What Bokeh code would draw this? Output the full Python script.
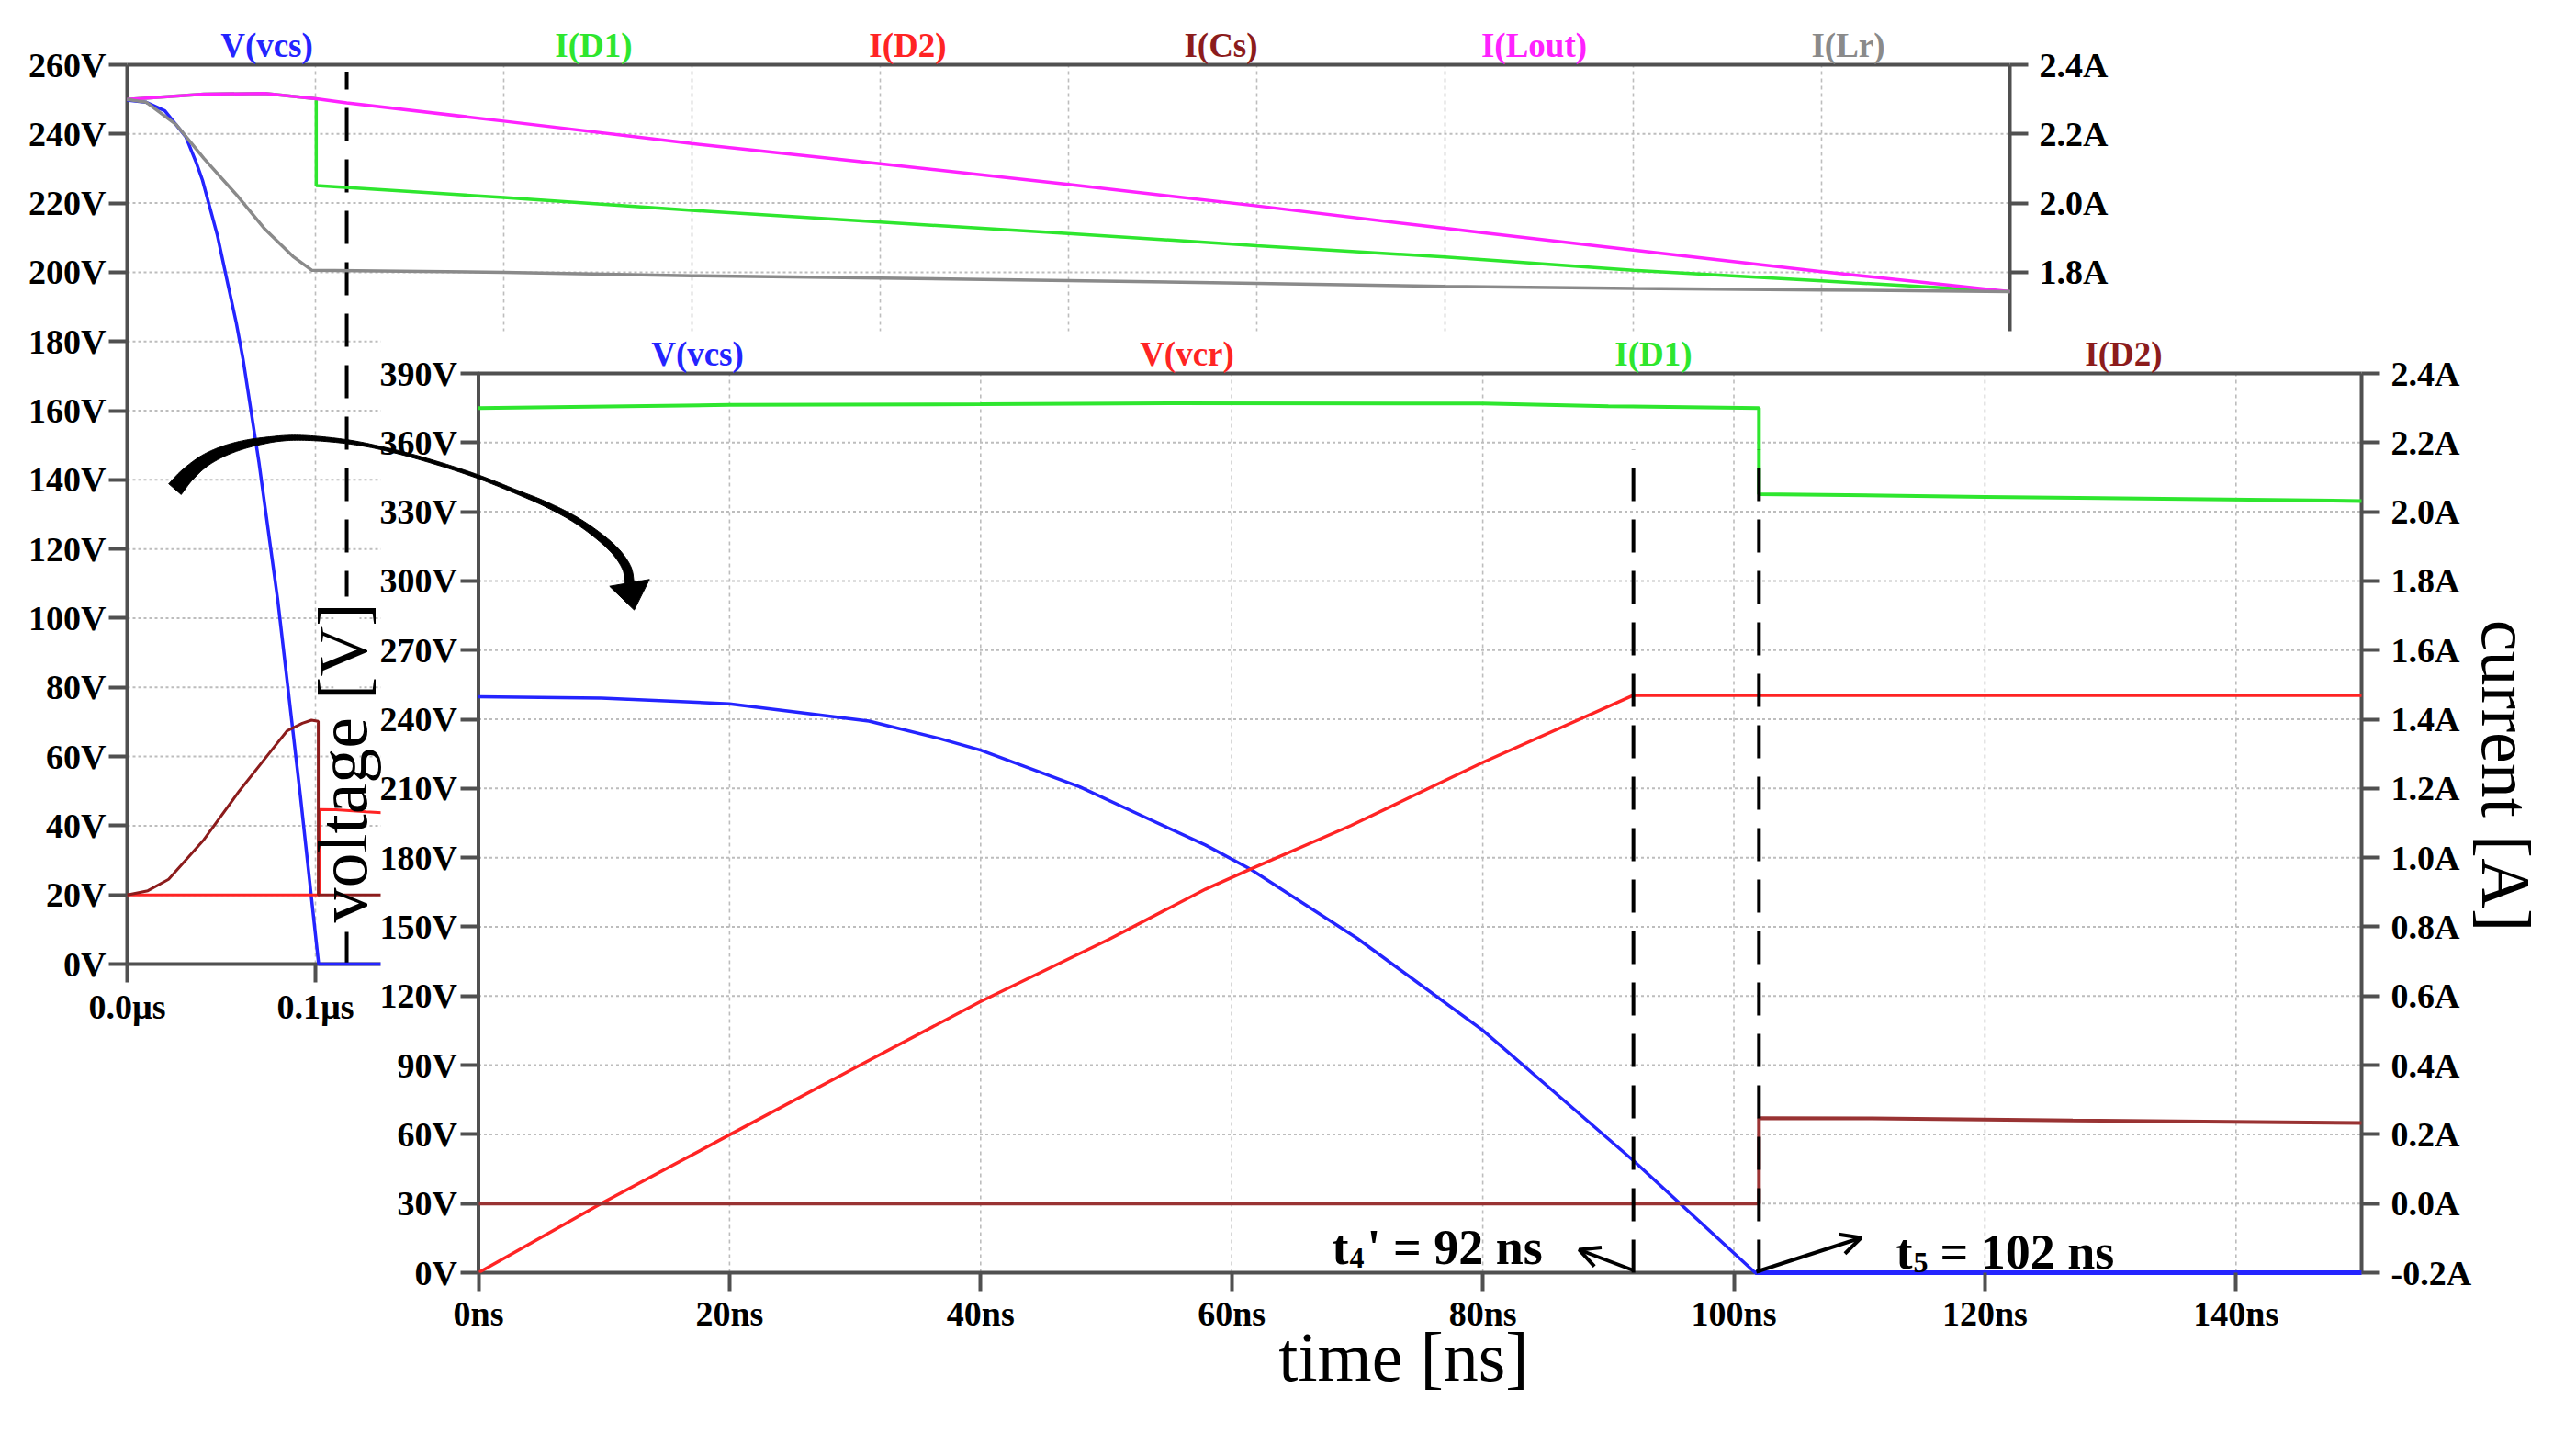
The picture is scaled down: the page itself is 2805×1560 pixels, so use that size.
import numpy as np
from bokeh.plotting import figure
from bokeh.models import Range1d, LinearAxis, FixedTicker, Label, Arrow, OpenHead, AllLabels
from bokeh.core.properties import value
from bokeh.embed import file_html
from bokeh.resources import INLINE

# ---------------- inset (zoomed) plot data, time in ns ----------------
in_t_vcs = [0, 9.8, 20, 31.1, 36.7, 40, 47.9, 53.5, 57.9, 61.5, 70, 80, 85.9, 92, 101.7, 150]
in_v_vcs = [249.8, 249.2, 246.7, 239.2, 231.7, 226.6, 210.7, 196.5, 185.5, 175.0, 145.0, 105.1, 77.4, 48.6, 0.0, 0.0]
in_t_vcr = [0, 9.8, 20, 30.4, 40, 50.2, 57.9, 61.5, 69.5, 80, 92, 150]
in_v_vcr = [0.0, 30.1, 59.8, 90.0, 117.6, 144.5, 166.3, 175.0, 193.9, 221.3, 250.4, 250.4]
in_t_d1 = [0, 20, 40, 55, 80, 90, 102, 102, 120, 150]
in_i_d1 = [2.300, 2.309, 2.311, 2.314, 2.313, 2.305, 2.300, 2.051, 2.043, 2.031]
in_t_d2 = [0, 102, 102, 111, 127, 150]
in_i_d2 = [0.0, 0.0, 0.247, 0.246, 0.240, 0.233]
in_markers_t = [92, 102]
in_marker_top_v = 357

# ---------------- background plot data, time in us ----------------
bg_t_d1 = [0.0, 0.0408, 0.0731, 0.1004, 0.1004, 0.2, 0.3, 0.4, 0.5, 0.6, 0.7, 0.8, 0.9, 1.0]
bg_i_d1 = [2.300, 2.315, 2.317, 2.302, 2.051, 2.016, 1.979, 1.945, 1.912, 1.877, 1.844, 1.806, 1.775, 1.744]
bg_t_cs = [0.0, 0.011, 0.022, 0.0408, 0.0595, 0.078, 0.0849, 0.093, 0.0979, 0.1015, 0.1015, 0.2]
bg_i_cs = [0.0, 0.012, 0.045, 0.160, 0.300, 0.427, 0.474, 0.496, 0.505, 0.502, 0.0, 0.0]
bg_t_lout = [0.0, 0.0408, 0.0731, 0.1004, 0.1166, 0.2, 0.3, 0.4, 0.5, 0.6, 0.7, 0.8, 0.9, 1.0]
bg_i_lout = [2.300, 2.315, 2.317, 2.302, 2.290, 2.237, 2.172, 2.114, 2.054, 1.992, 1.927, 1.864, 1.802, 1.744]
bg_t_lr = [0.0, 0.01, 0.026, 0.0408, 0.0582, 0.0731, 0.088, 0.098, 0.2, 0.3, 0.4, 0.5, 0.6, 0.7, 0.8, 0.9, 1.0]
bg_i_lr = [2.300, 2.292, 2.227, 2.129, 2.023, 1.925, 1.846, 1.806, 1.800, 1.790, 1.783, 1.776, 1.768, 1.759, 1.753, 1.749, 1.744]
bg_marker_t = 0.1166

# ---------------- ticks / labels ----------------
bg_v_ticks = [0, 20, 40, 60, 80, 100, 120, 140, 160, 180, 200, 220, 240, 260]
bg_v_labels = ["0V", "20V", "40V", "60V", "80V", "100V", "120V", "140V", "160V", "180V", "200V", "220V", "240V", "260V"]
bg_a_ticks = [1.8, 2.0, 2.2, 2.4]
bg_a_labels = ["1.8A", "2.0A", "2.2A", "2.4A"]
bg_t_ticks = [0.0, 0.1]
bg_t_labels = ["0.0\u00b5s", "0.1\u00b5s"]
bg_t_range = [0.0, 1.0]
bg_t_grid = [0.1, 0.2, 0.3, 0.4, 0.5, 0.6, 0.7, 0.8, 0.9]

in_v_ticks = [0, 30, 60, 90, 120, 150, 180, 210, 240, 270, 300, 330, 360, 390]
in_v_labels = ["0V", "30V", "60V", "90V", "120V", "150V", "180V", "210V", "240V", "270V", "300V", "330V", "360V", "390V"]
in_a_ticks = [-0.2, 0.0, 0.2, 0.4, 0.6, 0.8, 1.0, 1.2, 1.4, 1.6, 1.8, 2.0, 2.2, 2.4]
in_a_labels = ["-0.2A", "0.0A", "0.2A", "0.4A", "0.6A", "0.8A", "1.0A", "1.2A", "1.4A", "1.6A", "1.8A", "2.0A", "2.2A", "2.4A"]
in_t_ticks = [0, 20, 40, 60, 80, 100, 120, 140]
in_t_labels = ["0ns", "20ns", "40ns", "60ns", "80ns", "100ns", "120ns", "140ns"]
in_t_range = [0, 150]

BLUE, GREEN, RED, DRED, MAG, GRAY = "#2424ff", "#2ee62e", "#ff2424", "#8c1c1c", "#ff22ff", "#8a8a8a"
bg_names = ["V(vcs)", "I(D1)", "I(D2)", "I(Cs)", "I(Lout)", "I(Lr)"]
bg_name_colors = [BLUE, GREEN, RED, DRED, MAG, GRAY]
in_names = ["V(vcs)", "V(vcr)", "I(D1)", "I(D2)"]
in_name_colors = [BLUE, RED, GREEN, DRED]

AXC = "#505050"
GRIDC = "#bdbdbd"
FONT = "Liberation Serif"

# ---------------- layout helpers (pixel anchors of the reference) ----------------
W, H = 2789, 1544
X0, X1 = 8, 8 + W          # reference-pixel span of the canvas
Y0, Y1 = 8 + H, 8          # bottom, top (y grows downward in reference pixels)


def lin_range(v0, p0, v1, p1, q0, q1):
    k = (v1 - v0) / (p1 - p0)
    return Range1d(start=v0 + (q0 - p0) * k, end=v0 + (q1 - p0) * k)


p = figure(width=W, height=H, x_range=Range1d(X0, X1), y_range=Range1d(Y0, Y1),
           x_axis_location=None, y_axis_location=None, toolbar_location=None,
           output_backend="svg", min_border=0)
p.outline_line_color = None
p.grid.visible = False
p.background_fill_color = "white"
p.border_fill_color = "white"

p.extra_x_ranges = {
    "bx": lin_range(0.0, 146, 1.0, 2196, X0, X1),
    "ix": lin_range(0.0, 528.5, 150.0, 2579, X0, X1),
}
p.extra_y_ranges = {
    "bv": lin_range(0.0, 1057, 260.0, 78, Y0, Y1),
    "ba": lin_range(-0.2, 1057, 2.4, 78, Y0, Y1),
    "iv": lin_range(0.0, 1393, 390.0, 414, Y0, Y1),
    "ia": lin_range(-0.2, 1393, 2.4, 414, Y0, Y1),
}

# ================= background plot =================
bvg = bg_v_ticks[1:-1]
p.segment(x0=[bg_t_range[0]] * len(bvg), y0=bvg, x1=[bg_t_range[1]] * len(bvg), y1=bvg,
          x_range_name="bx", y_range_name="bv", line_color=GRIDC, line_width=2, line_dash="3 3")
p.segment(x0=bg_t_grid, y0=[0] * len(bg_t_grid), x1=bg_t_grid, y1=[260] * len(bg_t_grid),
          x_range_name="bx", y_range_name="bv", line_color=GRIDC, line_width=1.6, line_dash="4 4")
# frame
tb0, tb1 = bg_t_range
vb0, vb1 = bg_v_ticks[0], bg_v_ticks[-1]
p.segment(x0=[tb0, tb0, tb1, tb0], y0=[vb0, vb1, vb0, vb0], x1=[tb0, tb1, tb1, tb1], y1=[vb1, vb1, vb1, vb0],
          x_range_name="bx", y_range_name="bv", line_color=AXC, line_width=4)
# marker
p.segment(x0=[bg_marker_t], y0=[vb0], x1=[bg_marker_t], y1=[258],
          x_range_name="bx", y_range_name="bv", line_color="black", line_width=4, line_dash="36 20")
# blank strip behind the rotated axis title
p.quad(left=[371], right=[399], top=[657], bottom=[1022], fill_color="white", line_color=None)

p.line(np.array(in_t_vcs) / 1000.0, in_v_vcs, x_range_name="bx", y_range_name="bv", line_color=BLUE, line_width=3.5)
p.line(bg_t_d1, bg_i_d1, x_range_name="bx", y_range_name="ba", line_color=GREEN, line_width=3.5)
p.line(np.array(in_t_d2) / 1000.0, in_i_d2, x_range_name="bx", y_range_name="ba", line_color=RED, line_width=3)
p.line(bg_t_cs, bg_i_cs, x_range_name="bx", y_range_name="ba", line_color=DRED, line_width=3)
p.line(bg_t_lout, bg_i_lout, x_range_name="bx", y_range_name="ba", line_color=MAG, line_width=3.5)
p.line(bg_t_lr, bg_i_lr, x_range_name="bx", y_range_name="ba", line_color=GRAY, line_width=3.5)

# ================= inset plot =================
p.quad(left=[422], right=[X1 + 10], top=[368], bottom=[Y0 + 10], fill_color="white", line_color=None)

ivg = in_v_ticks[1:-1]
p.segment(x0=[in_t_range[0]] * len(ivg), y0=ivg, x1=[in_t_range[1]] * len(ivg), y1=ivg,
          x_range_name="ix", y_range_name="iv", line_color=GRIDC, line_width=2, line_dash="3 3")
itg = in_t_ticks[1:]
p.segment(x0=itg, y0=[0] * len(itg), x1=itg, y1=[390] * len(itg),
          x_range_name="ix", y_range_name="iv", line_color=GRIDC, line_width=1.6, line_dash="4 4")
ti0, ti1 = in_t_range
vi0, vi1 = in_v_ticks[0], in_v_ticks[-1]
p.segment(x0=[ti0, ti0, ti1, ti0], y0=[vi0, vi1, vi0, vi0], x1=[ti0, ti1, ti1, ti1], y1=[vi1, vi1, vi1, vi0],
          x_range_name="ix", y_range_name="iv", line_color=AXC, line_width=4)

p.line(in_t_vcs, in_v_vcs, x_range_name="ix", y_range_name="iv", line_color=BLUE, line_width=3.5)
p.line(in_t_vcr, in_v_vcr, x_range_name="ix", y_range_name="iv", line_color=RED, line_width=3.5)
p.line(in_t_d1, in_i_d1, x_range_name="ix", y_range_name="ia", line_color=GREEN, line_width=4)
p.line(in_t_d2, in_i_d2, x_range_name="ix", y_range_name="ia", line_color="#993333", line_width=4)
# blue 0 V stretch drawn over the axis
p.line(in_t_vcs[-2:], in_v_vcs[-2:], x_range_name="ix", y_range_name="iv", line_color=BLUE, line_width=5)

p.segment(x0=in_markers_t, y0=[0, 0], x1=in_markers_t, y1=[in_marker_top_v] * 2,
          x_range_name="ix", y_range_name="iv", line_color="black", line_width=4, line_dash="36 20")

# ================= axes (ticks + labels) =================


def add_axis(side, ticks, labels, xr, yr, loc, standoff):
    ax = LinearAxis(x_range_name=xr, y_range_name=yr, fixed_location=loc)
    ax.ticker = FixedTicker(ticks=ticks)
    ax.major_label_overrides = {t: l for t, l in zip(ticks, labels)}
    ax.major_label_policy = AllLabels()
    ax.axis_line_color = None
    ax.major_tick_line_color = AXC
    ax.major_tick_line_width = 4
    ax.major_tick_out = 20
    ax.major_tick_in = 0
    ax.minor_tick_line_color = None
    ax.major_label_text_font = FONT
    ax.major_label_text_font_size = "38px"
    ax.major_label_text_font_style = "bold"
    ax.major_label_text_color = "black"
    ax.major_label_standoff = standoff
    p.add_layout(ax, side)


add_axis("left", bg_v_ticks, bg_v_labels, "bx", "bv", tb0, 3)
add_axis("right", bg_a_ticks, bg_a_labels, "bx", "ba", tb1, 12)
add_axis("below", bg_t_ticks, bg_t_labels, "bx", "bv", vb0, 5)
add_axis("left", in_v_ticks, in_v_labels, "ix", "iv", ti0, 3)
add_axis("right", in_a_ticks, in_a_labels, "ix", "ia", ti1, 12)
add_axis("below", in_t_ticks, in_t_labels, "ix", "iv", vi0, 3)

# ================= series names =================
bg_name_px = [298, 654, 996, 1337, 1678, 2020]
p.text(x=bg_name_px, y=[57] * 6, text=bg_names, text_color=bg_name_colors,
       text_font=value(FONT), text_font_style="bold", text_font_size=value("37px"),
       text_align="center", text_baseline="middle")
in_name_px = [767, 1300, 1808, 2320]
p.text(x=in_name_px, y=[393] * 4, text=in_names, text_color=in_name_colors,
       text_font=value(FONT), text_font_style="bold", text_font_size=value("37px"),
       text_align="center", text_baseline="middle")

# ================= axis titles =================
for (x, y, s, ang) in [(380, 838, "voltage [V]", np.pi / 2), (2736, 852, "current [A]", -np.pi / 2),
                       (1536, 1484, "time [ns]", 0.0)]:
    p.add_layout(Label(x=x, y=y, text=s, angle=ang, text_font=FONT, text_color="black",
                       text_font_size="76px", text_align="center", text_baseline="middle"))

# ================= time annotations =================


def add_txt(x, y, s, size):
    p.add_layout(Label(x=x, y=y, text=s, text_font=FONT, text_font_size=size, text_color="black",
                       text_font_style="bold", text_align="left", text_baseline="alphabetic"))


add_txt(1458, 1365, "t", "54px")
add_txt(1477, 1377, "4", "32px")
add_txt(1496, 1365, "' = 92 ns", "54px")
add_txt(2072, 1370, "t", "54px")
add_txt(2091, 1382, "5", "32px")
add_txt(2120, 1370, "= 102 ns", "54px")

p.add_layout(Arrow(end=OpenHead(size=22, line_width=4, line_color="black"),
                   x_start=1785, y_start=1390, x_end=1727, y_end=1368, line_width=4, line_color="black"))
p.add_layout(Arrow(end=OpenHead(size=22, line_width=4, line_color="black"),
                   x_start=1920, y_start=1392, x_end=2034, y_end=1355, line_width=4, line_color="black"))

# ================= curved arrow =================
guide = [(198, 540), (212, 524), (232, 508), (258, 496), (290, 488), (330, 484), (383, 488), (430, 497),
         (478, 510), (527, 526), (570, 543), (601, 556), (632, 572), (658, 590), (678, 608), (690, 626), (693, 642)]


def catmull(pts, n=16):
    pts = np.array(pts, float)
    P = np.vstack([2 * pts[0] - pts[1], pts, 2 * pts[-1] - pts[-2]])
    out = []
    for i in range(1, len(P) - 2):
        p0, p1, p2, p3 = P[i - 1], P[i], P[i + 1], P[i + 2]
        for t in np.linspace(0, 1, n, endpoint=False):
            out.append(0.5 * (2 * p1 + (-p0 + p2) * t + (2 * p0 - 5 * p1 + 4 * p2 - p3) * t * t
                              + (-p0 + 3 * p1 - 3 * p2 + p3) * t ** 3))
    out.append(pts[-1])
    return np.array(out)


c = catmull(guide)
d = np.gradient(c, axis=0)
d /= np.linalg.norm(d, axis=1)[:, None]
nrm = np.column_stack([-d[:, 1], d[:, 0]])
seg = np.r_[0, np.cumsum(np.linalg.norm(np.diff(c, axis=0), axis=1))]
s = seg / seg[-1]
w = np.interp(s, [0, 0.06, 0.22, 0.42, 0.7, 0.9, 1.0], [18, 14, 6, 3.5, 4, 8, 10])
left = c + nrm * (w[:, None] / 2)
right = c - nrm * (w[:, None] / 2)
poly = np.vstack([left, right[::-1]])
p.patch(poly[:, 0], poly[:, 1], fill_color="black", line_color="black", line_width=1)
E = c[-1]
dv = d[-1]
nv = nrm[-1]
tip = E + dv * 30
head = np.array([E + nv * 22, tip, E - nv * 22])
p.patch(head[:, 0], head[:, 1], fill_color="black", line_color="black", line_width=1)

open("out.html", "w").write(file_html(p, INLINE))
